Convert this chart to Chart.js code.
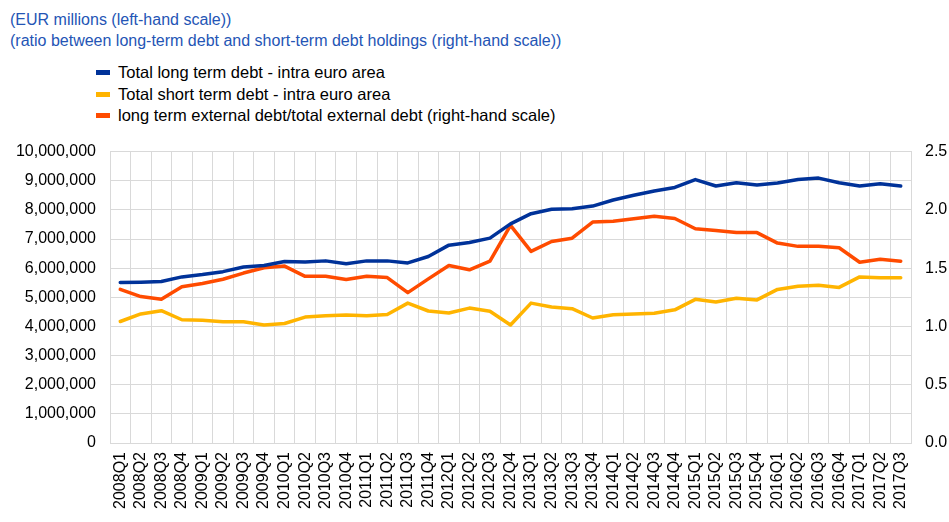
<!DOCTYPE html>
<html>
<head>
<meta charset="utf-8">
<script src="https://cdn.jsdelivr.net/npm/chart.js@4.4.1/dist/chart.umd.min.js"></script>
<style>
  body { margin: 0; background: #fff; font-family: "Liberation Sans", Arial, sans-serif; }
  #head { position: absolute; left: 10px; top: 9px; color: #2455b5; font-size: 16px; line-height: 21px; }
  #legend { position: absolute; left: 96px; top: 62px; font-size: 16.5px; color: #000; }
  #legend div { height: 21.5px; line-height: 21.5px; white-space: nowrap; }
  #legend span { display: inline-block; width: 14px; height: 5px; margin-right: 8px; vertical-align: middle; position: relative; top: -1px; }
  #wrap { position: absolute; left: 0; top: 128px; }
</style>
</head>
<body>
<div id="head">
  <div>(EUR millions (left-hand scale))</div>
  <div>(ratio between long-term debt and short-term debt holdings (right-hand scale))</div>
</div>
<div id="legend"></div>
<div id="wrap"><canvas id="debtChart" width="949" height="394"></canvas></div>
<script>
// trimestres 2008Q1 -> 2017Q3
const quarters = [
  '2008Q1','2008Q2','2008Q3','2008Q4','2009Q1','2009Q2','2009Q3','2009Q4',
  '2010Q1','2010Q2','2010Q3','2010Q4','2011Q1','2011Q2','2011Q3','2011Q4',
  '2012Q1','2012Q2','2012Q3','2012Q4','2013Q1','2013Q2','2013Q3','2013Q4',
  '2014Q1','2014Q2','2014Q3','2014Q4','2015Q1','2015Q2','2015Q3','2015Q4',
  '2016Q1','2016Q2','2016Q3','2016Q4','2017Q1','2017Q2','2017Q3'
];

// EUR millions
const longTermDebt = [
  5510000, 5520000, 5540000, 5700000, 5780000, 5880000, 6040000, 6090000,
  6230000, 6210000, 6250000, 6150000, 6250000, 6250000, 6180000, 6400000,
  6790000, 6880000, 7030000, 7520000, 7870000, 8020000, 8040000, 8130000,
  8340000, 8500000, 8650000, 8770000, 9040000, 8820000, 8930000, 8850000,
  8920000, 9040000, 9090000, 8930000, 8820000, 8900000, 8820000
];

const shortTermDebt = [
  4170000, 4430000, 4540000, 4230000, 4210000, 4160000, 4160000, 4050000,
  4100000, 4320000, 4370000, 4390000, 4370000, 4410000, 4800000, 4530000,
  4460000, 4630000, 4520000, 4050000, 4800000, 4670000, 4610000, 4290000,
  4400000, 4430000, 4450000, 4570000, 4930000, 4840000, 4970000, 4910000,
  5270000, 5380000, 5410000, 5340000, 5700000, 5670000, 5670000
];

// ratio (right-hand scale)
const longExternalRatio = [
  1.318, 1.256, 1.233, 1.340, 1.368, 1.405, 1.458, 1.503,
  1.518, 1.430, 1.430, 1.402, 1.430, 1.419, 1.290, 1.408,
  1.523, 1.486, 1.560, 1.867, 1.644, 1.729, 1.757, 1.895,
  1.903, 1.923, 1.945, 1.926, 1.838, 1.824, 1.805, 1.805,
  1.715, 1.687, 1.687, 1.675, 1.551, 1.577, 1.560
];

const leftTicks = [0, 10000000, 1000000];  // min, max, step
const rightTicks = [0, 2.5, 0.5];

const gridColor = '#d9d9d9';
const tickFont = { family: "'Liberation Sans', Arial, sans-serif", size: 16 };

const datasets = [
  { label: 'Total long term debt - intra euro area', data: longTermDebt, borderColor: '#003299', yAxisID: 'y' },
  { label: 'Total short term debt - intra euro area', data: shortTermDebt, borderColor: '#ffb400', yAxisID: 'y' },
  { label: 'long term external debt/total external debt (right-hand scale)', data: longExternalRatio, borderColor: '#ff4b00', yAxisID: 'y1' }
];

// legende HTML (liste verticale)
const legendEl = document.getElementById('legend');
datasets.forEach(function(ds) {
  const row = document.createElement('div');
  row.innerHTML = '<span style="background:' + ds.borderColor + '"></span>' + ds.label;
  legendEl.appendChild(row);
});

datasets.forEach(function(ds) {
  ds.borderWidth = 3.5;
  ds.pointRadius = 0;
  ds.tension = 0;
  ds.fill = false;
  ds.borderJoinStyle = 'round';
  ds.borderCapStyle = 'round';
  ds.backgroundColor = ds.borderColor;
});

// ordre de dessin : bleu au-dessus
datasets[0].order = 1;
datasets[1].order = 2;
datasets[2].order = 3;

const ctx = document.getElementById('debtChart').getContext('2d');
new Chart(ctx, {
  type: 'line',
  data: { labels: quarters, datasets: datasets },
  options: {
    responsive: false,
    animation: false,
    layout: { padding: { top: 13, left: 0, right: 0, bottom: 0 } },
    plugins: {
      legend: { display: false },
      tooltip: { enabled: false }
    },
    scales: {
      x: {
        offset: true,
        grid: { offset: true, color: gridColor, drawTicks: false },
        border: { color: gridColor },
        ticks: {
          color: '#000',
          font: tickFont,
          minRotation: 90,
          maxRotation: 90,
          autoSkip: false,
          padding: 9
        },
        afterFit: function(scale) { scale.height = 79; }
      },
      y: {
        position: 'left',
        min: leftTicks[0],
        max: leftTicks[1],
        grid: { color: gridColor, drawTicks: false },
        border: { color: gridColor },
        ticks: {
          stepSize: leftTicks[2],
          color: '#000',
          font: tickFont,
          padding: 14,
          callback: function(v) { return v.toLocaleString('en-US'); }
        },
        afterFit: function(scale) { scale.width = 110; }
      },
      y1: {
        position: 'right',
        min: rightTicks[0],
        max: rightTicks[1],
        grid: { drawOnChartArea: false, drawTicks: false },
        border: { color: gridColor },
        ticks: {
          stepSize: rightTicks[2],
          color: '#000',
          font: tickFont,
          padding: 14,
          callback: function(v) { return v.toFixed(1); }
        },
        afterFit: function(scale) { scale.width = 38; }
      }
    }
  }
});
</script>
</body>
</html>
